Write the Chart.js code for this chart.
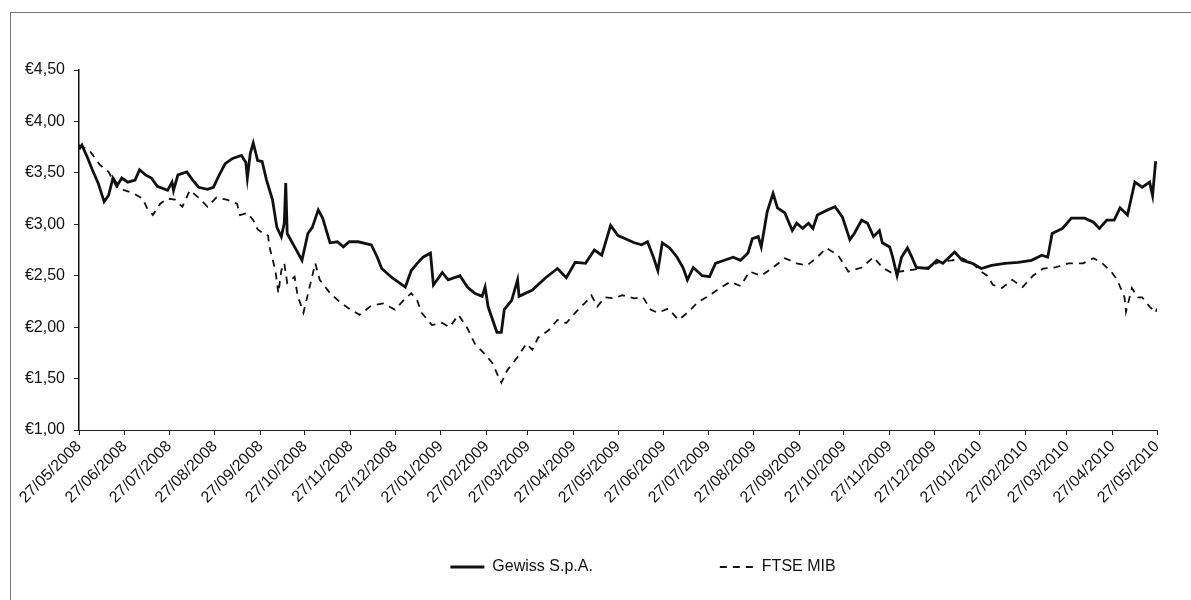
<!DOCTYPE html>
<html>
<head>
<meta charset="utf-8">
<script src="https://cdn.jsdelivr.net/npm/chart.js@4.4.1/dist/chart.umd.min.js"></script>
<style>
  html, body { margin: 0; padding: 0; background: #fff; overflow: hidden; width: 1191px; height: 600px; }
  #frame { position: absolute; left: 10px; top: 12px; width: 1300px; height: 700px; border: 1px solid #777; pointer-events: none; }
  canvas { position: absolute; left: 0; top: 0; }
</style>
</head>
<body>
<canvas id="chart" width="1286" height="600"></canvas>
<div id="frame"></div>
<script>
// monthly tick labels (x axis is days since 27/05/2008)
const tickLabels = ['27/05/2008', '27/06/2008', '27/07/2008', '27/08/2008', '27/09/2008', '27/10/2008',
  '27/11/2008', '27/12/2008', '27/01/2009', '27/02/2009', '27/03/2009', '27/04/2009', '27/05/2009',
  '27/06/2009', '27/07/2009', '27/08/2009', '27/09/2009', '27/10/2009', '27/11/2009', '27/12/2009',
  '27/01/2010', '27/02/2010', '27/03/2010', '27/04/2010', '27/05/2010'];

const gewissDays = [0, 2, 6, 9, 13, 17, 20, 23, 26, 29, 33, 38, 41, 45, 49, 53, 60, 63, 64, 67, 73, 77, 81, 87, 91,
  95, 99, 104, 110, 113, 114, 116, 118, 121, 124, 127, 131, 134, 137, 139, 140, 141, 146, 151, 155, 158, 162,
  165, 170, 175, 179, 183, 189, 198, 202, 205, 212, 221, 225, 229, 233, 238, 240, 246, 250, 258, 263, 268, 273,
  275, 277, 283, 286, 288, 293, 297, 298, 307, 316, 324, 330, 336, 343, 349, 354, 360, 365, 370, 376, 381, 385,
  389, 392, 395, 400, 405, 409, 412, 416, 422, 427, 431, 437, 443, 448, 453, 456, 460, 462, 466, 470, 473, 478,
  483, 486, 490, 494, 497, 500, 507, 512, 517, 522, 525, 530, 534, 538, 542, 544, 549, 551, 554, 557, 561, 564,
  567, 575, 581, 585, 593, 598, 605, 611, 618, 627, 636, 645, 652, 656, 659, 666, 672, 681, 687, 691, 696, 701,
  705, 710, 715, 720, 725, 727, 729, 730];
const gewissPrice = [3.73, 3.77, 3.64, 3.53, 3.40, 3.22, 3.28, 3.45, 3.38, 3.45, 3.41, 3.43, 3.53, 3.48, 3.45, 3.37,
  3.33, 3.41, 3.33, 3.48, 3.51, 3.43, 3.36, 3.34, 3.36,
  3.48, 3.59, 3.64, 3.67, 3.60, 3.45, 3.69, 3.79, 3.62, 3.61, 3.43, 3.24, 2.97, 2.88, 3.01, 3.40, 2.91, 2.78, 2.65, 2.91, 2.97, 3.14,
  3.06, 2.82, 2.83, 2.78, 2.83, 2.83, 2.80, 2.68, 2.57, 2.48, 2.39, 2.55, 2.62, 2.68, 2.72, 2.41, 2.53, 2.46, 2.50, 2.39, 2.33, 2.30,
  2.39, 2.20, 1.95, 1.95, 2.17, 2.26, 2.46, 2.30, 2.36, 2.48, 2.57, 2.48, 2.63, 2.62, 2.75, 2.70, 2.99, 2.89, 2.86, 2.82, 2.80, 2.83,
  2.68, 2.55, 2.82, 2.77, 2.68, 2.58, 2.46, 2.58, 2.50, 2.49, 2.62, 2.65, 2.68, 2.65, 2.72, 2.86, 2.88, 2.78, 3.12, 3.30, 3.16, 3.11,
  2.94, 3.01, 2.96, 3.01, 2.96, 3.09, 3.14, 3.17, 3.07, 2.85, 2.91, 3.04, 3.01, 2.88, 2.94, 2.82, 2.78, 2.68, 2.50, 2.68, 2.77, 2.68,
  2.58, 2.57, 2.65, 2.62, 2.73, 2.65, 2.62, 2.57, 2.60, 2.62, 2.63, 2.65, 2.70, 2.68, 2.91, 2.96, 3.06, 3.06, 3.02, 2.96, 3.04, 3.04,
  3.16, 3.09, 3.41, 3.36, 3.41, 3.28, 3.60, 3.60];

const ftseDays = [0, 7, 14, 20, 26, 31, 37, 43, 46, 50, 55, 60, 65, 70, 75, 81, 87, 93, 100, 107, 109, 114, 118, 121,
  124, 128, 129, 133, 135, 137, 139, 141, 146, 148, 152, 154, 160, 163, 170, 177, 183, 190, 198, 206, 214, 221,
  225, 229, 232, 239, 246, 251, 257, 263, 268, 274, 280, 283, 286, 290, 297, 303, 307, 311, 318, 324, 330, 336,
  343, 347, 351, 356, 362, 368, 376, 382, 387, 392, 399, 406, 412, 419, 427, 434, 441, 448, 454, 462, 469, 478,
  486, 493, 500, 506, 514, 521, 530, 538, 544, 550, 561, 575, 582, 591, 598, 605, 611, 615, 619, 625, 632, 639,
  646, 653, 661, 670, 680, 687, 693, 699, 703, 708, 709, 713, 717, 720, 725, 729, 730];
const ftseValue = [3.77, 3.72, 3.58, 3.51, 3.35, 3.33, 3.30, 3.25, 3.16, 3.09, 3.20, 3.25, 3.24, 3.17, 3.33, 3.26,
  3.17, 3.26, 3.24, 3.20, 3.09, 3.11, 3.04, 2.95,
  2.92, 2.89, 2.78, 2.55, 2.33, 2.55, 2.62, 2.43, 2.49, 2.31, 2.14, 2.26, 2.62, 2.46, 2.33, 2.24, 2.18, 2.12, 2.21, 2.23, 2.17, 2.28,
  2.33, 2.26, 2.14, 2.02, 2.04, 2.00, 2.12, 1.99, 1.84, 1.75, 1.65, 1.55, 1.46, 1.58, 1.71, 1.84, 1.78, 1.90, 1.97, 2.07, 2.04, 2.14,
  2.24, 2.31, 2.20, 2.29, 2.28, 2.31, 2.28, 2.29, 2.17, 2.14, 2.18, 2.07, 2.14, 2.24, 2.31, 2.38, 2.44, 2.40, 2.54, 2.50, 2.57, 2.67,
  2.62, 2.60, 2.68, 2.77, 2.70, 2.54, 2.58, 2.68, 2.58, 2.53, 2.55, 2.58, 2.63, 2.65, 2.67, 2.62, 2.54, 2.50, 2.41, 2.38, 2.46, 2.39,
  2.50, 2.57, 2.58, 2.62, 2.62, 2.67, 2.62, 2.54, 2.46, 2.29, 2.15, 2.38, 2.29, 2.29, 2.20, 2.14, 2.18];

const startUTC = Date.UTC(2008, 4, 27);
const tickDays = tickLabels.map(s => {
  const [d, m, y] = s.split('/').map(Number);
  return Math.round((Date.UTC(y, m - 1, d) - startUTC) / 86400000);
});

const toPoints = (xs, ys) => xs.map((x, i) => ({ x, y: ys[i] }));
const font = { family: '"Liberation Sans", Arial, sans-serif', size: 16 };

new Chart(document.getElementById('chart'), {
  type: 'line',
  data: {
    datasets: [
      {
        label: 'Gewiss S.p.A.',
        data: toPoints(gewissDays, gewissPrice),
        borderColor: '#111',
        borderWidth: 2.8,
        pointRadius: 0,
        tension: 0
      },
      {
        label: 'FTSE MIB',
        data: toPoints(ftseDays, ftseValue),
        borderColor: '#111',
        borderWidth: 1.8,
        borderDash: [7, 6],
        pointRadius: 0,
        tension: 0
      }
    ]
  },
  options: {
    responsive: false,
    animation: false,
    layout: { padding: { top: 70, left: 0, right: 0, bottom: 15 } },
    plugins: {
      tooltip: { enabled: false },
      legend: {
        position: 'bottom',
        labels: {
          usePointStyle: true,
          pointStyle: 'line',
          pointStyleWidth: 34,
          padding: 127,
          color: '#111',
          font,
          generateLabels: chart => {
            const items = Chart.defaults.plugins.legend.labels.generateLabels(chart);
            items.forEach(it => {
              const ds = chart.data.datasets[it.datasetIndex];
              it.lineDash = ds.borderDash || [];
              it.lineWidth = ds.borderWidth;
            });
            return items;
          }
        }
      }
    },
    scales: {
      x: {
        type: 'linear',
        min: 0,
        max: 730,
        afterBuildTicks: s => { s.ticks = tickDays.map(v => ({ value: v })); },
        afterFit: s => {
          // legend sits right under the axis line, so let the rotated labels spill over it
          s.height = 2;
          s._computeLabelArea = () => undefined;
        },
        ticks: {
          autoSkip: false,
          minRotation: 45,
          maxRotation: 45,
          padding: 2,
          color: '#111',
          font,
          callback: v => tickLabels[tickDays.indexOf(v)]
        },
        grid: { drawOnChartArea: false, tickLength: 5, color: '#222' },
        border: { color: '#222', width: 1 }
      },
      y: {
        min: 1,
        max: 4.5,
        afterFit: s => { s.width = 79; },
        ticks: {
          stepSize: 0.5,
          padding: 9,
          color: '#111',
          font,
          callback: v => '€' + v.toFixed(2).replace('.', ',')
        },
        grid: { drawOnChartArea: false, tickLength: 5, color: '#222' },
        border: { color: '#111', width: 1.5 }
      },
      yRight: {
        position: 'right',
        afterFit: s => { s.width = 129; },
        ticks: { display: false },
        grid: { display: false },
        border: { display: false }
      }
    }
  }
});
</script>
</body>
</html>
